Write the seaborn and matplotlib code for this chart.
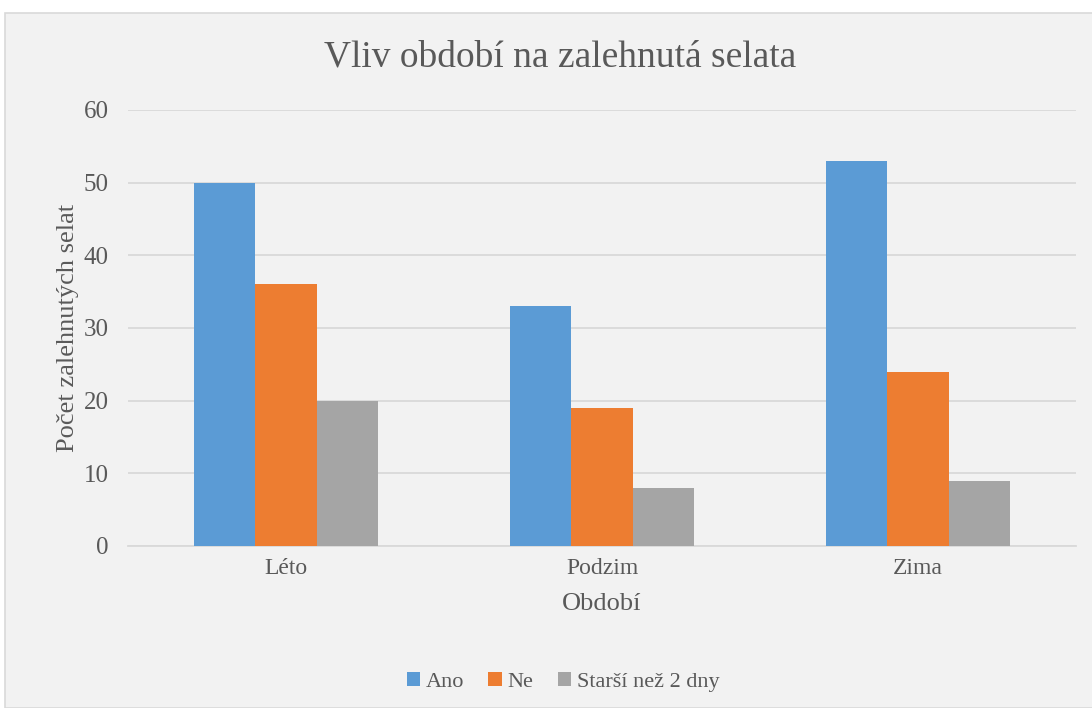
import matplotlib
matplotlib.use('Agg')
import matplotlib.pyplot as plt
from matplotlib.patches import Rectangle
import seaborn as sns
import pandas as pd

# data
seasons = ['Léto', 'Podzim', 'Zima']
groups = ['Ano', 'Ne', 'Starší než 2 dny']
ano = [50, 33, 53]
ne = [36, 19, 24]
starsi = [20, 8, 9]
colors = ['#5B9BD5', '#ED7D31', '#A5A5A5']

df = pd.DataFrame({
    'season': seasons * 3,
    'group': [g for g in groups for _ in seasons],
    'value': ano + ne + starsi,
})

sns.set_theme(style='white')
plt.rcParams['font.family'] = ['Liberation Serif', 'DejaVu Serif']
text_color = '#595959'

fig = plt.figure(figsize=(10.92, 7.08), dpi=100)
fig.patch.set_facecolor('white')
fig.add_artist(Rectangle((5 / 1092, 0), 1.0, 1 - 13 / 708, transform=fig.transFigure,
                         facecolor='#F2F2F2', edgecolor='#D9D9D9', linewidth=1.2, zorder=0))

ax = fig.add_axes([128 / 1092, 1 - 546 / 708, 948 / 1092, 436 / 708])
ax.set_facecolor('none')
sns.barplot(data=df, x='season', y='value', hue='group', hue_order=groups,
            palette=colors, width=0.58, saturation=1, linewidth=0, ax=ax, zorder=3)

ax.set_ylim(0, 60)
ax.set_xlim(-0.5, 2.5)
ax.set_yticks(range(0, 61, 10))
ax.yaxis.grid(True, color='#D9D9D9', linewidth=1.3, zorder=0)
ax.set_axisbelow(True)
for s in ['top', 'right', 'left']:
    ax.spines[s].set_visible(False)
ax.spines['bottom'].set_color('#D9D9D9')
ax.spines['bottom'].set_linewidth(1.3)
ax.tick_params(axis='y', length=0, labelsize=18, colors=text_color, pad=14)
ax.tick_params(axis='x', length=0, labelsize=17, colors=text_color, pad=9)

ax.set_xlabel('Období', fontsize=19, color=text_color, labelpad=10)
ax.set_ylabel('Počet zalehnutých selat', fontsize=19, color=text_color, labelpad=3)
fig.text(0.513, 1 - 57 / 708, 'Vliv období na zalehnutá selata', ha='center', va='center',
         fontsize=27, color=text_color)

ax.legend(loc='center', bbox_to_anchor=(563 / 1092, 1 - 682 / 708),
          bbox_transform=fig.transFigure, ncol=3, frameon=False, fontsize=16,
          handlelength=0.6, handleheight=0.6, handletextpad=0.25, columnspacing=1.1,
          labelcolor=text_color)

fig.savefig('out.png', dpi=100)
